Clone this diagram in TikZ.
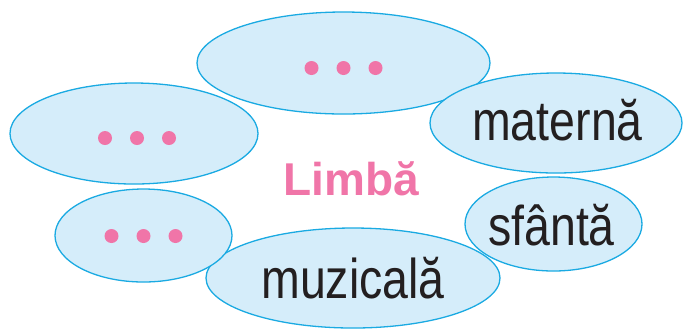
\documentclass[tikz,border=0pt]{standalone}
\usepackage{fontspec}
\setmainfont{Liberation Sans}
\newfontfamily\wordfont[FakeStretch=0.83]{Liberation Sans}
\usetikzlibrary{shapes.geometric, calc}
\definecolor{bubblefill}{HTML}{D5EDFA}
\definecolor{bubbleline}{HTML}{1AAAE2}
\definecolor{dotpink}{HTML}{F075A8}
\definecolor{wordblack}{HTML}{231F20}
\tikzset{
  bubble/.style={
    draw=bubbleline, fill=bubblefill, ellipse, line width=0.65pt,
    inner sep=0pt
  },
  word/.style={
    font=\wordfont\fontsize{28}{30}\selectfont, text=wordblack,
    inner sep=0pt, anchor=base
  },
  title/.style={
    font=\bfseries\fontsize{23}{26}\selectfont, text=dotpink,
    inner sep=0pt, anchor=base
  },
  pinkdot/.style={fill=dotpink}
}

\begin{document}
\begin{tikzpicture}[x=0.5pt, y=-0.5pt]
\useasboundingbox (0,0) rectangle (683,329);

\node[bubble, minimum width=146.5pt, minimum height=51pt]  (top)     at (343.5,63)  {};
\node[bubble, minimum width=124pt,   minimum height=50.5pt] (left)   at (134,133.5) {};
\node[bubble, minimum width=126pt,   minimum height=50pt]  (materna) at (556,123)   {};
\node[bubble, minimum width=88.5pt,  minimum height=47pt]  (sfanta)  at (553.5,224) {};
\node[bubble, minimum width=147pt,   minimum height=50pt]  (muzicala) at (353,278)  {};
\node[bubble, minimum width=88.5pt,  minimum height=46.5pt] (lowleft) at (143.5,235.5) {};

% dots
\foreach \dx in {-32,0,32} {
  \fill[pinkdot] ($(top)+(\dx,5)$) circle[radius=3.5pt];
  \fill[pinkdot] ($(left)+(\dx+3,4.5)$) circle[radius=3.5pt];
  \fill[pinkdot] ($(lowleft)+(\dx,0.5)$) circle[radius=3.5pt];
}

\node[title] (limba)      at (351.5,195) {Limbă};
\node[word]  (materna-t)  at (557.5,140) {maternă};
\node[word]  (sfanta-t)   at (551.5,245) {sfântă};
\node[word]  (muzicala-t) at (353,298)   {muzicală};
\end{tikzpicture}
\end{document}
